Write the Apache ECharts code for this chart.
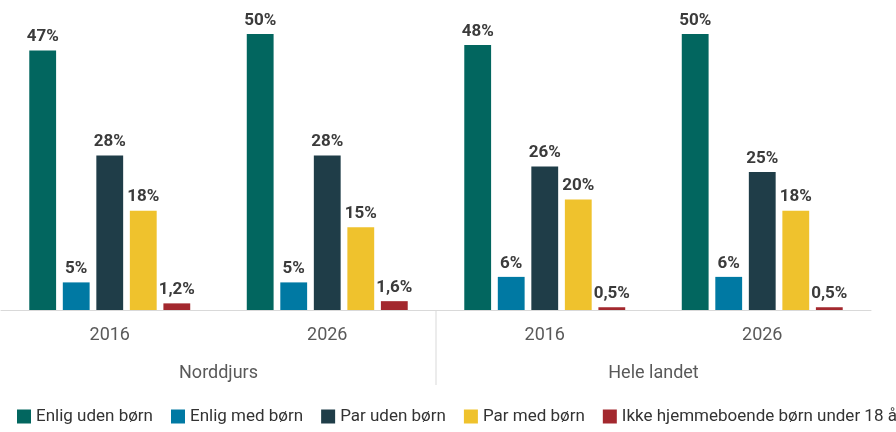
<!DOCTYPE html>
<html>
<head>
<meta charset="utf-8">
<script src="https://cdn.jsdelivr.net/npm/echarts@6/dist/echarts.min.js"></script>
<style>
  html, body { margin: 0; padding: 0; background: #fff; }
  #chart { width: 896px; height: 432px; }
</style>
</head>
<body>
<div id="chart"></div>
<script>
// periods (inner axis) and areas (outer axis)
const years = ['2016', '2026', '2016', '2026']
const areas = ['Norddjurs', 'Hele landet']

// share of households, in %
const enligUden = [47, 50, 48, 50]
const enligMed = [5, 5, 6, 6]
const parUden = [28, 28, 26, 25]
const parMed = [18, 15, 20, 18]
const ikkeHjemme = [1.2, 1.6, 0.5, 0.5]

const seriesNames = ['Enlig uden børn', 'Enlig med børn', 'Par uden børn', 'Par med børn', 'Ikke hjemmeboende børn under 18 år']
const seriesData = [enligUden, enligMed, parUden, parMed, ikkeHjemme]
const colors = ['#02665f', '#0079a3', '#1f3d48', '#efc22d', '#a3282e']

const fontFamily = 'Roboto, "Noto Sans", sans-serif'

const fmt = (v) => String(v).replace('.', ',') + '%'

const chart = echarts.init(document.getElementById('chart'))

const option = {
  backgroundColor: '#fff',
  animation: false,
  color: colors,
  textStyle: { fontFamily },
  legend: {
    data: seriesNames,
    left: 12,
    bottom: 2,
    width: 1400,
    icon: 'rect',
    itemWidth: 14,
    itemHeight: 14,
    itemGap: 18,
    textStyle: { fontSize: 17, color: '#333', fontFamily }
  },
  grid: { left: 1, right: 25, top: 34, bottom: 122, containLabel: false },
  xAxis: [
    {
      type: 'category',
      data: years,
      axisLine: { lineStyle: { color: '#d9d9d9', width: 1 } },
      axisTick: { show: false },
      axisLabel: { fontSize: 18, color: '#595959', margin: 16, fontFamily }
    },
    {
      type: 'category',
      data: areas,
      position: 'bottom',
      offset: 46,
      axisLine: { show: false },
      axisTick: { show: false },
      axisLabel: { fontSize: 18, color: '#595959', margin: 8, fontFamily }
    }
  ],
  yAxis: {
    type: 'value',
    min: 0,
    max: 50,
    show: false,
    splitLine: { show: false }
  },
  series: seriesNames.map((name, i) => ({
    name,
    type: 'bar',
    xAxisIndex: 0,
    data: seriesData[i],
    barGap: '25%',
    barCategoryGap: '26%',
    itemStyle: { color: colors[i] },
    label: {
      show: true,
      position: 'top',
      distance: 5,
      formatter: (p) => fmt(p.value),
      fontSize: 17,
      fontWeight: 'bold',
      color: '#3b3b3b',
      fontFamily
    }
  }))
}

chart.setOption(option)

// separator between the two areas, placed from the category scale
const x1 = chart.convertToPixel({ xAxisIndex: 0 }, 1)
const x2 = chart.convertToPixel({ xAxisIndex: 0 }, 2)
const y0 = chart.convertToPixel({ yAxisIndex: 0 }, 0)
chart.setOption({
  graphic: [{
    type: 'line',
    shape: { x1: (x1 + x2) / 2, y1: y0, x2: (x1 + x2) / 2, y2: y0 + 75 },
    style: { stroke: '#d9d9d9', lineWidth: 1 },
    silent: true
  }]
})
</script>
</body>
</html>
